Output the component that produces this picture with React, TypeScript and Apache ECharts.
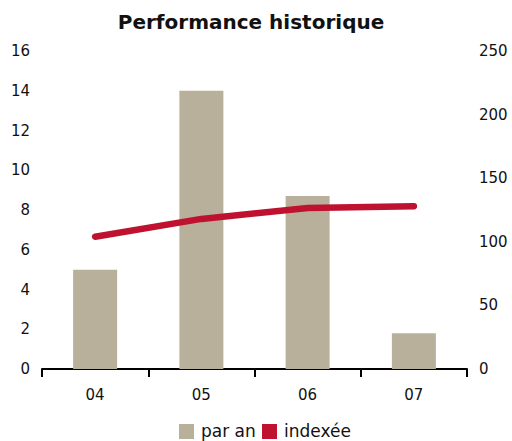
import React, { useEffect, useRef } from "react";
import * as echarts from "echarts";

const categories = ["04", "05", "06", "07"];
const parAn = [5, 14, 8.7, 1.8];
const indexee = [104, 118, 126.5, 128];
const seriesNames = ["par an", "indexée"];
const leftTicks = { min: 0, max: 16, interval: 2 };
const rightTicks = { min: 0, max: 250, interval: 50 };

const FONT = "DejaVu Sans";
const BAR = "#B8B09A";
const RED = "#BE1230";

export default function App() {
  const ref = useRef<HTMLDivElement>(null);
  useEffect(() => {
    const chart = echarts.init(ref.current!, null, { renderer: "svg" });
    const legendColors = [BAR, RED];
    const legendX = [179, 262];
    const legendGraphics: any[] = [];
    seriesNames.forEach((n, i) => {
      legendGraphics.push({
        type: "rect",
        left: legendX[i],
        top: 424,
        shape: { width: 15, height: 15 },
        style: { fill: legendColors[i] },
      });
      legendGraphics.push({
        type: "text",
        left: legendX[i] + 22,
        top: 422,
        style: { text: n, font: `17px "${FONT}"`, fill: "#111" },
      });
    });
    chart.setOption({
      animation: false,
      title: {
        text: "Performance historique",
        left: 246,
        textAlign: "center",
        top: 7,
        textStyle: { fontFamily: FONT, fontSize: 20, fontWeight: "bold", color: "#111" },
      },
      legend: { show: false, data: seriesNames },
      graphic: legendGraphics,
      grid: { left: 42, right: 45, top: 51, bottom: 72 },
      xAxis: {
        type: "category",
        data: categories,
        boundaryGap: true,
        axisLine: { lineStyle: { color: "#000", width: 2 } },
        axisTick: { show: true, length: 8, inside: false, lineStyle: { color: "#000", width: 2 } },
        axisLabel: { fontFamily: FONT, fontSize: 15, color: "#111", margin: 18 },
      },
      yAxis: [
        {
          type: "value",
          ...leftTicks,
          position: "left",
          splitLine: { show: false },
          axisLine: { show: false },
          axisTick: { show: false },
          axisLabel: { fontFamily: FONT, fontSize: 15, color: "#111", margin: 12 },
        },
        {
          type: "value",
          ...rightTicks,
          position: "right",
          splitLine: { show: false },
          axisLine: { show: false },
          axisTick: { show: false },
          axisLabel: { fontFamily: FONT, fontSize: 15, color: "#111", margin: 12 },
        },
      ],
      series: [
        {
          name: seriesNames[0],
          type: "bar",
          data: parAn,
          barWidth: 44,
          itemStyle: { color: BAR },
          yAxisIndex: 0,
        },
        {
          name: seriesNames[1],
          type: "line",
          data: indexee,
          yAxisIndex: 1,
          symbol: "none",
          lineStyle: { color: RED, width: 6.5, cap: "round" },
          itemStyle: { color: RED },
        },
      ],
    });
    return () => chart.dispose();
  }, []);
  return (
    <div
      ref={ref}
      style={{ position: "fixed", left: 0, top: 0, width: 512, height: 441, background: "#fff" }}
    />
  );
}
